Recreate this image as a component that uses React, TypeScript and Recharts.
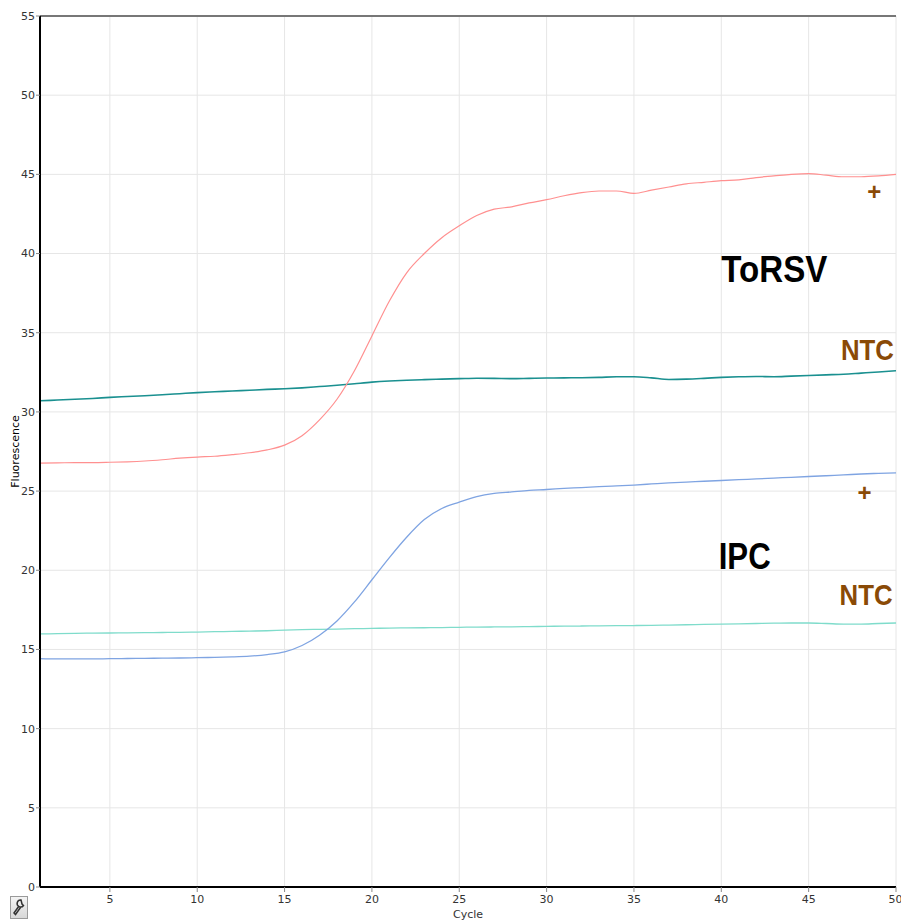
import { LineChart, Line, XAxis, YAxis, CartesianGrid, ReferenceLine, ReferenceDot } from "recharts";

const cycles = [
  1, 2, 3, 4, 5, 6, 7, 8, 9, 10, 11, 12, 13, 14, 15, 16, 17, 18, 19, 20, 21, 22, 23, 24, 25,
  26, 27, 28, 29, 30, 31, 32, 33, 34, 35, 36, 37, 38, 39, 40, 41, 42, 43, 44, 45, 46, 47, 48, 49, 50,
];

const torsv = [
  26.77, 26.78, 26.8, 26.8, 26.82, 26.85, 26.9, 26.98, 27.08, 27.15, 27.2, 27.3, 27.42, 27.6, 27.9,
  28.5, 29.5, 30.8, 32.6, 34.8, 37.0, 38.8, 40.0, 41.0, 41.75, 42.4, 42.8, 42.95, 43.2, 43.4,
  43.65, 43.85, 43.95, 43.95, 43.8, 44.0, 44.2, 44.4, 44.5, 44.6, 44.65, 44.8, 44.9, 45.0, 45.05,
  44.95, 44.85, 44.85, 44.9, 45.0,
];

const ntcTorsv = [
  30.7, 30.75, 30.8, 30.85, 30.92, 30.97, 31.02, 31.08, 31.15, 31.22, 31.27, 31.32, 31.37, 31.42,
  31.46, 31.52, 31.6, 31.68, 31.78, 31.88, 31.95, 32.0, 32.04, 32.07, 32.1, 32.13, 32.12, 32.1,
  32.12, 32.14, 32.15, 32.16, 32.18, 32.22, 32.22, 32.15, 32.05, 32.07, 32.12, 32.18, 32.22, 32.24,
  32.22, 32.26, 32.3, 32.34, 32.38, 32.45, 32.52, 32.6,
];

const ipc = [
  14.42, 14.4, 14.4, 14.4, 14.42, 14.43, 14.44, 14.45, 14.46, 14.48, 14.5, 14.53, 14.58, 14.68,
  14.85, 15.25, 15.9, 16.8, 18.0, 19.4, 20.8, 22.1, 23.2, 23.9, 24.3, 24.65, 24.85, 24.95, 25.05,
  25.1, 25.17, 25.22, 25.28, 25.33, 25.38, 25.45, 25.52, 25.57, 25.62, 25.67, 25.72, 25.77, 25.82,
  25.87, 25.92, 25.97, 26.02, 26.08, 26.12, 26.15,
];

const ntcIpc = [
  15.98, 16.0, 16.02, 16.03, 16.04, 16.05, 16.06, 16.07, 16.08, 16.1, 16.12, 16.14, 16.16, 16.18,
  16.22, 16.25, 16.27, 16.29, 16.31, 16.33, 16.35, 16.36, 16.37, 16.38, 16.4, 16.41, 16.42, 16.43,
  16.44, 16.46, 16.47, 16.48, 16.49, 16.5, 16.51, 16.52, 16.54, 16.56, 16.58, 16.6, 16.62, 16.64,
  16.66, 16.67, 16.67, 16.64, 16.6, 16.6, 16.64, 16.67,
];

const xTicks = [5, 10, 15, 20, 25, 30, 35, 40, 45, 50];
const yTicks = [0, 5, 10, 15, 20, 25, 30, 35, 40, 45, 50, 55];

// annotations, placed in data coordinates (cycle, fluorescence)
const labels = [
  { text: "ToRSV", cycle: 40.0, value: 38.2, color: "#000000", size: 37, width: 106 },
  { text: "IPC", cycle: 39.85, value: 20.1, color: "#000000", size: 37, width: 52 },
  { text: "NTC", cycle: 46.85, value: 33.28, color: "#8a4a06", size: 30, width: 53 },
  { text: "NTC", cycle: 46.77, value: 17.8, color: "#8a4a06", size: 30, width: 53 },
];
const plusMarks = [
  { cycle: 48.75, value: 43.89 },
  { cycle: 48.2, value: 24.88 },
];

const data = cycles.map((c, i) => ({
  cycle: c,
  torsv: torsv[i],
  ntcTorsv: ntcTorsv[i],
  ipc: ipc[i],
  ntcIpc: ntcIpc[i],
}));

const tickStyle = { fontFamily: "DejaVu Sans", fontSize: 11, fill: "#333333" };

function Wrench() {
  return (
    <div
      style={{
        position: "absolute",
        left: 10,
        top: 896,
        width: 18,
        height: 23,
        border: "1px solid #9a9a9a",
        background: "linear-gradient(#f4f4f4, #d8d8d8)",
        boxSizing: "border-box",
      }}
    >
      <svg width={16} height={21} viewBox="0 0 16 21">
        <path
          d="M10 3 a3.5 3.5 0 1 0 2.5 5.5 L11 7 L10.5 5 Z M8 9 L3 16 L4.5 17.5 L9.5 10.5"
          fill="none"
          stroke="#333"
          strokeWidth={1.5}
        />
      </svg>
    </div>
  );
}

export default function App() {
  return (
    <div style={{ position: "absolute", left: 0, top: 0, width: 901, height: 922, background: "#ffffff" }}>
      <LineChart width={901} height={922} data={data} margin={{ top: 16, right: 5, bottom: 0, left: 0 }}>
        <CartesianGrid stroke="#e6e6e6" strokeWidth={1} />
        <XAxis
          dataKey="cycle"
          type="number"
          domain={[1, 50]}
          ticks={xTicks}
          height={35}
          tickSize={5}
          tickMargin={3}
          tick={tickStyle}
          axisLine={{ stroke: "#000000", strokeWidth: 2 }}
          tickLine={{ stroke: "#888888" }}
          label={{ value: "Cycle", position: "insideBottom", offset: 4, style: { ...tickStyle, fontSize: 11 } }}
        />
        <YAxis
          type="number"
          domain={[0, 55]}
          ticks={yTicks}
          width={40}
          tickSize={4}
          tickMargin={1}
          tick={tickStyle}
          axisLine={{ stroke: "#000000", strokeWidth: 2 }}
          tickLine={{ stroke: "#888888" }}
          label={{
            content: (props: any) => {
              const vb = props.viewBox || { x: 0, y: 16, height: 871 };
              const cx = vb.x + 19;
              const cy = vb.y + vb.height / 2;
              return (
                <text
                  x={cx}
                  y={cy}
                  transform={`rotate(-90 ${cx} ${cy})`}
                  textAnchor="middle"
                  fontFamily="DejaVu Sans"
                  fontSize={11}
                  fill="#000000"
                >
                  Fluorescence
                </text>
              );
            },
          }}
        />
        <ReferenceLine y={55} stroke="#777777" strokeWidth={2} />
        <Line type="monotone" dataKey="ntcIpc" stroke="#7fdccb" strokeWidth={1.3} dot={false} isAnimationActive={false} />
        <Line type="monotone" dataKey="ipc" stroke="#7fa4e2" strokeWidth={1.3} dot={false} isAnimationActive={false} />
        <Line type="monotone" dataKey="ntcTorsv" stroke="#1a9090" strokeWidth={1.6} dot={false} isAnimationActive={false} />
        <Line type="monotone" dataKey="torsv" stroke="#ff9090" strokeWidth={1.2} dot={false} isAnimationActive={false} />
        {labels.map((l, i) => (
          <ReferenceDot
            key={"l" + i}
            x={l.cycle}
            y={l.value}
            r={0}
            shape={(p: any) => (
              <text
                x={p.cx}
                y={p.cy}
                fontFamily="Liberation Sans, Arial, sans-serif"
                fontWeight="bold"
                fontSize={l.size}
                fill={l.color}
                textLength={l.width}
                lengthAdjust="spacingAndGlyphs"
              >
                {l.text}
              </text>
            )}
          />
        ))}
        {plusMarks.map((m, i) => (
          <ReferenceDot
            key={"p" + i}
            x={m.cycle}
            y={m.value}
            r={0}
            shape={(p: any) => (
              <text
                x={p.cx}
                y={p.cy + 8}
                textAnchor="middle"
                fontFamily="Liberation Sans, Arial, sans-serif"
                fontWeight="bold"
                fontSize={24}
                fill="#8a4a06"
              >
                +
              </text>
            )}
          />
        ))}
      </LineChart>
      <Wrench />
    </div>
  );
}
